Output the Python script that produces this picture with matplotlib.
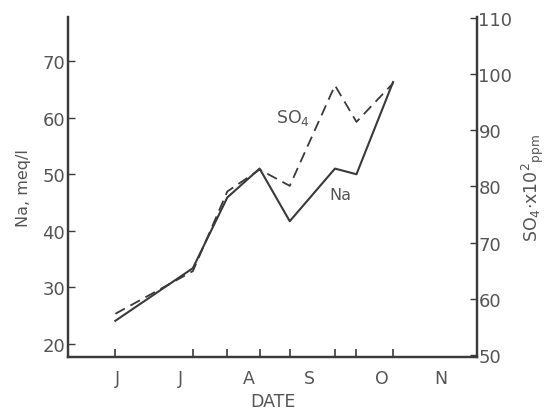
import matplotlib
matplotlib.use("Agg")
import matplotlib.pyplot as plt

# sampling days (counted from late May) and concentrations
sample_day = [22, 58, 74, 89, 103, 124, 134, 151]
na_meq = [24.1, 33.4, 45.9, 51.0, 41.7, 51.0, 50.0, 66.3]
so4_ppm = [57.3, 64.9, 79.1, 83.0, 80.1, 98.0, 91.5, 98.4]

month_pos = [23, 52, 84, 112, 146, 173]
month_labels = ["J", "J", "A", "S", "O", "N"]

ink = "#3a3a3a"
txt = "#555555"

fig = plt.figure(figsize=(5.52, 4.14), dpi=100)
ax = fig.add_axes([0.1232, 0.1353, 0.741, 0.8213])
ax2 = ax.twinx()

ax.plot(sample_day, na_meq, color=ink, lw=1.5)
ax2.plot(sample_day, so4_ppm, color=ink, lw=1.3, dashes=(6, 3.5))

ax.set_xlim(0, 190)
ax.set_ylim(17.7, 77.8)
ax2.set_ylim(49.6, 110.2)

ax.set_yticks([20, 30, 40, 50, 60, 70])
ax2.set_yticks([50, 60, 70, 80, 90, 100, 110])

# month letters as labels, sample dates as small tick marks
ax.set_xticks(month_pos)
ax.set_xticklabels(month_labels)
ax.tick_params(axis="x", which="major", length=0, pad=9, labelsize=12.5, labelcolor=txt)
ax.set_xticks(sample_day, minor=True)
ax.tick_params(axis="x", which="minor", direction="in", length=6, width=1.2, color=ink)

ax.tick_params(axis="y", direction="in", length=5, width=1.0, color=ink, pad=2,
               labelsize=13, labelcolor=txt)
ax2.tick_params(axis="y", direction="in", length=5, width=1.0, color=ink, pad=1,
                labelsize=13, labelcolor=txt)

for a in (ax, ax2):
    a.spines["top"].set_visible(False)
    for s in ("left", "right", "bottom"):
        a.spines[s].set_color(ink)
        a.spines[s].set_linewidth(1.6)

ax.set_xlabel("DATE", fontsize=12.5, color=txt, labelpad=3)
ax.set_ylabel("Na, meq/l", fontsize=11.5, color=txt, labelpad=8)
ax2.set_ylabel("SO$_4$$\\cdot$x10$^2$$_{\\rm ppm}$", fontsize=12.5, color=txt, labelpad=5)

ax.text(104.5, 60.1, "SO$_4$", fontsize=12.5, color=txt, ha="center", va="center")
ax.text(126.3, 46.5, "Na", fontsize=11.5, color=txt, ha="center", va="center")

fig.savefig("out.png", dpi=100)
